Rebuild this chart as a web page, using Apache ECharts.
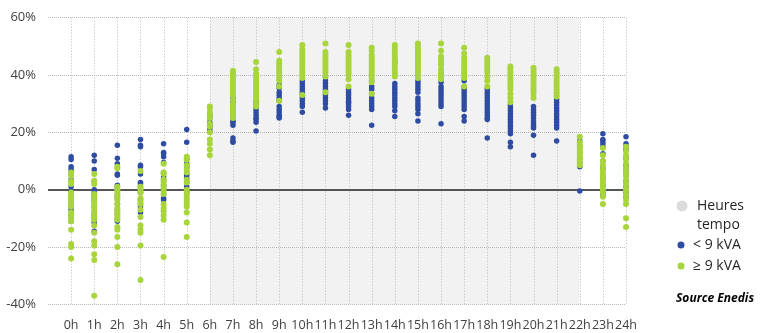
<!DOCTYPE html>
<html><head><meta charset="utf-8">
<script src="https://cdn.jsdelivr.net/npm/echarts@6/dist/echarts.min.js"></script>
<style>html,body{margin:0;padding:0;background:#fff}#c{width:766px;height:333px}</style>
</head><body><div id="c"></div>
<script>
var hours = [0,1,2,3,4,5,6,7,8,9,10,11,12,13,14,15,16,17,18,19,20,21,22,23,24];
var hourLabels = hours.map(function(h){return h + 'h';});
var yTicks = [-40,-20,0,20,40,60];
var tempoStart = 6, tempoEnd = 22;

var below9 = [
  [11.5, 10.5, 8, 7, 6, 3.5, 1, -0.5, -2.5, -3.5, -5, -6, -7, -9, -11],
  [12, 10, 7, 3, 0, -1, -2, -3, -4, -6, -8, -9, -10, -11.5, -14.5],
  [15.5, 11, 9, 5.5, 5, 1.5, 1, 0, -2, -3, -5, -7, -8.5, -10, -11],
  [17.5, 15.5, 15, 8.5, 8, 5.5, 2.5, 2, 1, -1, -3.5, -5, -6, -8],
  [16, 13, 12.5, 11.5, 9.5, 6, 4.5, 3.5, 1.5, 0, -1.5, -3, -3.5],
  [21, 16.5, 10.5, 9, 8, 6, 5, 4, 2.5, 1, -1],
  [26, 25, 23.5, 22.5, 21.5, 20.5],
  [32, 30.5, 29, 28, 27, 26, 25, 24, 23.5, 22.5, 18, 17, 16.5],
  [31, 30, 29, 28, 27, 26, 25, 24.5, 23.5, 20.5],
  [36.5, 35.5, 34, 33, 32, 31, 29, 28, 27, 26, 25.5, 25],
  [38, 37, 36, 35, 34, 33, 32, 31, 30, 29, 27],
  [39.5, 38, 37, 36, 35, 34, 33, 32, 31, 30, 28.5],
  [35, 34, 33, 32, 31, 30.5, 30, 29, 28, 26],
  [38, 36, 35, 33.5, 32, 31, 30, 29, 28, 22.5],
  [44.5, 37, 36, 35, 34, 33, 32, 31, 30, 29, 27.5, 25.5],
  [38, 37, 36, 35, 34, 32, 31, 30, 29, 28, 26.5, 24],
  [37.5, 36, 35, 34, 33, 32, 31, 30, 29, 23],
  [38, 36, 35, 34, 33, 32, 31, 30, 29, 28, 25.5, 24],
  [35, 34, 33, 32, 31, 30, 29, 28, 27, 26, 25, 24.5, 18],
  [29.5, 28.5, 27.5, 26.5, 25.5, 24.5, 23.5, 22.5, 21.5, 20.5, 19.5, 16.5, 15],
  [29, 28, 27, 26, 25, 24, 23, 22, 21.5, 19, 12],
  [31.5, 30.5, 29.5, 28.5, 27.5, 26.5, 25.5, 24.5, 23.5, 22.5, 21.5, 17],
  [17, 15, 13, 11, 9.5, 8, -0.5],
  [19.5, 17.5, 17, 16, 15, 12.5, 10, 7.5, 4, 1.5, -1, -2],
  [18.5, 16, 15, 14, 11, 8.5, 7, 5, 3, 1, -1, -2.5]
];

var above9 = [
  [6, 5, 3, 2, -1, -2, -3, -4, -5, -6, -8, -9, -10, -11, -14, -19, -20, -24],
  [5.5, 3, 2, -1.5, -2.5, -4, -5, -6, -7, -8.5, -9.5, -10.5, -12.5, -15, -18, -19.5, -22.5, -24.5, -37],
  [8, 7.5, 1, 0, -0.5, -1.5, -2.5, -3.5, -5, -6.5, -7.5, -8.5, -9.5, -10.5, -13, -14, -16.5, -20, -26],
  [6.5, 1, 0, -1, -3, -4, -5, -7, -9.5, -12.5, -14, -15, -19.5, -31.5],
  [9, 6, 5.5, 3.5, 2.5, 1.5, 0.5, -0.5, -1.5, -5, -6.5, -7.5, -9, -10.5, -23.5],
  [11.5, 10.5, 8.5, 7, 6, 3.5, 2.5, 0, -1, -2, -3, -4, -5, -6, -8, -11.5, -16.5],
  [29, 28.5, 27, 26, 25, 23, 22, 20, 17.5, 16, 14, 12],
  [41.5, 40.5, 40, 39, 38, 37, 36, 35, 34, 33, 31.5, 30, 29, 28, 27, 26, 25],
  [44.5, 42, 40.5, 39.5, 38.5, 37.5, 36.5, 35.5, 34.5, 33.5, 32.5, 31.5, 30, 29],
  [48, 45, 44, 43, 42, 41, 40, 39, 38, 36, 31],
  [50.5, 49, 48, 47, 46, 45, 44, 43, 42, 41, 40, 39, 33],
  [51, 48, 47, 46, 45, 44, 43, 42, 41, 39.5, 34],
  [50.5, 48, 47, 46, 45, 44, 43, 42, 41, 40, 38.5, 36],
  [49.5, 48.5, 47, 46, 45, 44, 43, 42, 41, 40, 39, 37.5, 33.5],
  [50.5, 49.5, 48.5, 47.5, 46.5, 45.5, 44.5, 43.5, 42.5, 41.5, 40.5, 39.5],
  [51, 50, 49, 48, 47, 46, 45, 44, 43, 42, 41, 40, 39],
  [51, 48.5, 46.5, 45.5, 44.5, 43.5, 42, 41, 40, 39, 38.5],
  [49.5, 47.5, 46, 45, 44, 43, 42, 41, 40, 39, 36],
  [46, 45, 44, 43, 42, 41, 39.5, 38, 36],
  [43, 42, 41, 40, 39, 38, 37, 36, 35, 33.5, 32, 30.5],
  [42.5, 41.5, 40.5, 39.5, 38.5, 37.5, 36.5, 35.5, 34.5, 33.5, 32],
  [42, 41, 40, 39, 38, 37, 36, 35, 34, 33, 32.5],
  [18.5, 16.5, 15.5, 14.5, 13.5, 12.5, 11.5, 10.5, 9.5, 8.5],
  [14.5, 12, 10, 8.5, 7, 6, 5, 4, 3, 2, 1, 0, -1, -2.5, -5],
  [15, 13.5, 12, 10.5, 9, 7.5, 6, 5, 3.5, 2, 0.5, -0.5, -2, -3.5, -5, -10, -13]
];

function toPoints(arr){
  var out = [];
  arr.forEach(function(vals, i){ vals.forEach(function(v){ out.push([hours[i], v]); }); });
  return out;
}

var BLUE = '#2f4ca3', GREEN = '#a7d53b', GRID = '#b8b8b8', TXT = '#404040';
var FONT = '"Open Sans", "Noto Sans", sans-serif';
var yMin = yTicks[0], yMax = yTicks[yTicks.length-1];

var chart = echarts.init(document.getElementById('c'), null, {renderer:'canvas'});
chart.setOption({
  animation: false,
  grid: {left: 48, right: 140, top: 17.7, bottom: 28.7},
  xAxis: {
    type: 'value', min: -1, max: 24, interval: 1,
    axisLine: {show: false}, axisTick: {show: false}, splitLine: {show: false},
    axisLabel: {
      margin: 15, color: TXT, fontFamily: FONT, fontSize: 12.5,
      formatter: function(v){ var i = hours.indexOf(v); return i < 0 ? '' : hourLabels[i]; }
    }
  },
  yAxis: {
    type: 'value', min: yMin, max: yMax, interval: 20, z: 1.5,
    axisLine: {show: false}, axisTick: {show: false},
    splitLine: {show: true, lineStyle: {color: GRID, type: 'dotted', width: 1}},
    axisLabel: {margin: 12, color: TXT, fontFamily: FONT, fontSize: 13, formatter: '{value}%'}
  },
  series: [
    {
      type: 'scatter', name: 'frame', data: [[-1, 0]], symbolSize: 0, silent: true,
      markArea: {silent: true, itemStyle: {color: '#f2f2f2'},
        data: [[{coord: [tempoStart, yMin]}, {coord: [tempoEnd, yMax]}]]}
    },
    {
      type: 'custom', name: 'hourLines', silent: true, z: 1.6,
      data: hours.map(function(h){ return [h, 0]; }),
      encode: {x: 0, y: 1},
      renderItem: function(params, api){
        var x = api.value(0);
        var top = api.coord([x, yMax]);
        var bot = api.coord([x, yMin]);
        var px = Math.round(top[0]) + 0.5;
        return {type: 'line', silent: true,
          shape: {x1: px, y1: top[1], x2: px, y2: bot[1]},
          style: {stroke: GRID, lineWidth: 1, lineDash: [1, 2], fill: null}};
      }
    },
    {
      type: 'custom', name: 'zeroLine', silent: true, z: 1.7,
      data: [[0, 0]],
      encode: {x: 0, y: 1},
      renderItem: function(params, api){
        var l = api.coord([-1, 0]);
        var r = api.coord([24, 0]);
        return {type: 'line', silent: true,
          shape: {x1: l[0], y1: Math.round(l[1]), x2: r[0], y2: Math.round(r[1])},
          style: {stroke: '#555555', lineWidth: 2, fill: null}};
      }
    },
    {
      type: 'scatter', name: '< 9 kVA', z: 2, symbolSize: 5.5,
      itemStyle: {color: BLUE, opacity: 1},
      data: toPoints(below9)
    },
    {
      type: 'scatter', name: '≥ 9 kVA', z: 3, symbolSize: 6,
      itemStyle: {color: GREEN, opacity: 1},
      data: toPoints(above9)
    }
  ],
  graphic: [
    {type: 'circle', shape: {cx: 682, cy: 206, r: 5.5}, style: {fill: '#dcdcdc'}},
    {type: 'text', x: 697, y: 206, style: {text: 'Heures', fill: '#262626', font: '14px ' + FONT, verticalAlign: 'middle'}},
    {type: 'text', x: 697, y: 225, style: {text: 'tempo', fill: '#262626', font: '14px ' + FONT, verticalAlign: 'middle'}},
    {type: 'circle', shape: {cx: 681, cy: 245, r: 3.5}, style: {fill: BLUE}},
    {type: 'text', x: 693, y: 245, style: {text: '< 9 kVA', fill: '#262626', font: '14px ' + FONT, verticalAlign: 'middle'}},
    {type: 'circle', shape: {cx: 681, cy: 266, r: 3.5}, style: {fill: GREEN}},
    {type: 'text', x: 693, y: 266, style: {text: '≥ 9 kVA', fill: '#262626', font: '14px ' + FONT, verticalAlign: 'middle'}},
    {type: 'text', x: 676, y: 299, style: {text: 'Source Enedis', fill: '#000000', font: 'italic bold 12px ' + FONT, verticalAlign: 'middle'}}
  ]
});
</script></body></html>
